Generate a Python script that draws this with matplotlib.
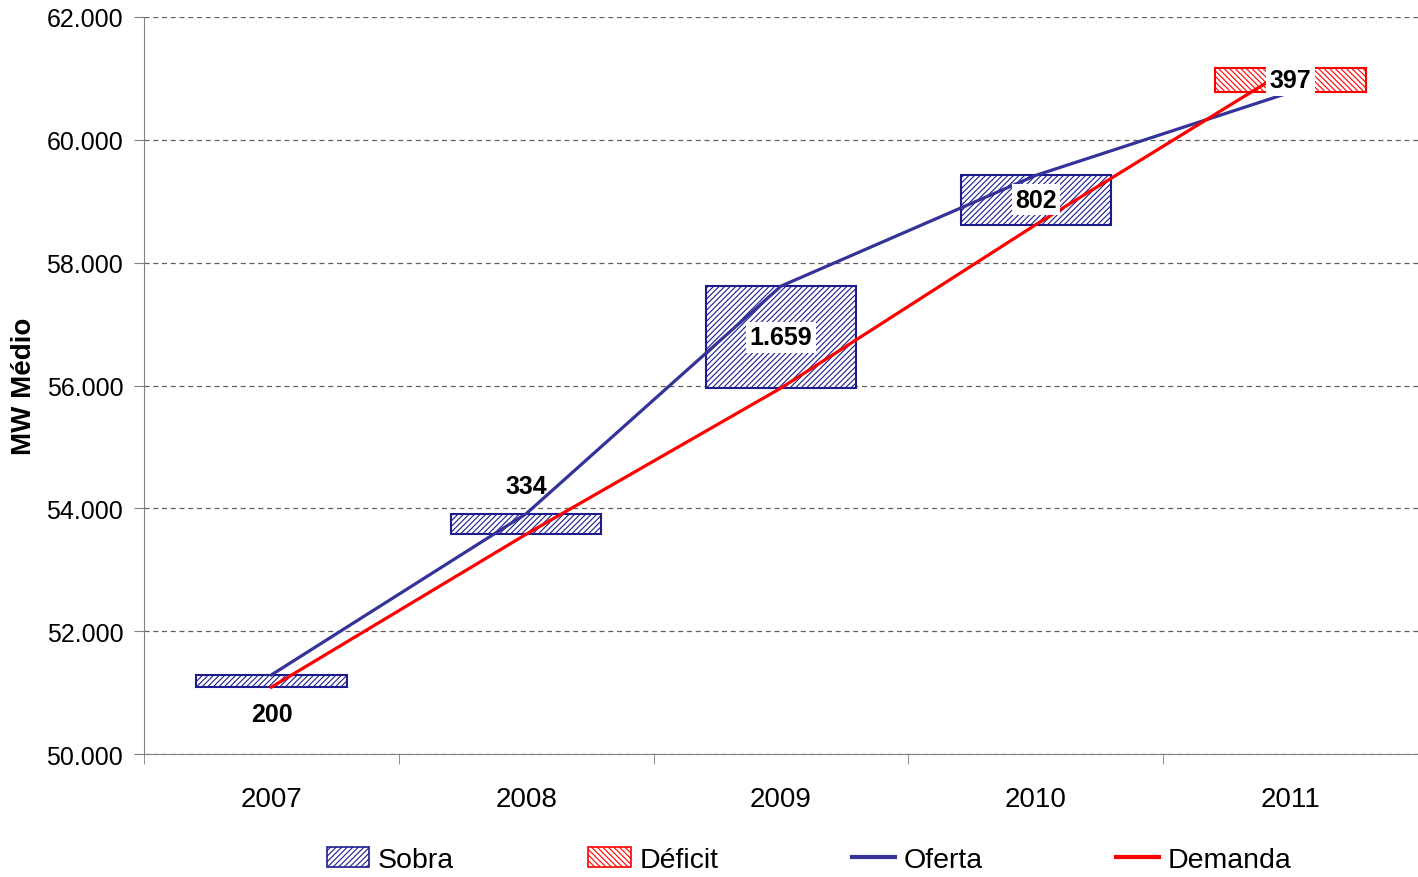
import matplotlib
matplotlib.use("Agg")
import matplotlib.pyplot as plt
from matplotlib.patches import Patch
from matplotlib.lines import Line2D
from matplotlib.ticker import FuncFormatter
import numpy as np

years = ["2007", "2008", "2009", "2010", "2011"]
oferta = [51290, 53914, 57619, 59422, 60775]
demanda = [51090, 53580, 55960, 58620, 61172]
saldo_labels = ["200", "334", "1.659", "802", "397"]

BLUE = "#333399"
NAVY = "#1c1c8f"
RED = "#ff0000"

plt.rcParams["font.family"] = ["Liberation Sans", "DejaVu Sans"]
plt.rcParams["hatch.linewidth"] = 0.8

fig = plt.figure(figsize=(14.18, 8.78), dpi=100)
ax = fig.add_axes([0.1016, 0.140, 0.8984, 0.8395])

x = np.arange(len(years))
of = np.array(oferta)
de = np.array(demanda)
bottoms = np.minimum(of, de)
heights = np.abs(of - de)

for i in range(len(years)):
    if of[i] >= de[i]:
        col, hatch = NAVY, "//////"
    else:
        col, hatch = RED, "\\\\\\\\\\\\"
    ax.bar(x[i], heights[i], bottom=bottoms[i], width=0.59, facecolor="white",
           edgecolor=col, hatch=hatch, linewidth=0, zorder=2)
    ax.bar(x[i], heights[i], bottom=bottoms[i], width=0.59, facecolor="none",
           edgecolor=col, linewidth=1.5, zorder=2)

ax.plot(x, oferta, color=BLUE, linewidth=2.3, zorder=3)
ax.plot(x, demanda, color=RED, linewidth=2.3, zorder=3)

for i, lab in enumerate(saldo_labels):
    top = bottoms[i] + heights[i]
    if i == 0:
        ax.annotate(lab, (x[i], bottoms[i]), xytext=(0, -19.5), textcoords="offset points",
                    ha="center", va="center", fontsize=18, fontweight="bold", zorder=5)
    elif i == 1:
        ax.annotate(lab, (x[i], top), xytext=(0, 20), textcoords="offset points",
                    ha="center", va="center", fontsize=18, fontweight="bold", zorder=5)
    else:
        ax.text(x[i], bottoms[i] + heights[i] / 2, lab, ha="center", va="center",
                fontsize=18, fontweight="bold", zorder=5,
                bbox=dict(facecolor="white", edgecolor="none", pad=2.5))

ax.set_xlim(-0.5, len(years) - 0.5)
ax.set_ylim(50000, 62000)
ax.set_yticks(np.arange(50000, 62001, 2000))
ax.yaxis.set_major_formatter(FuncFormatter(lambda v, p: f"{int(v):,}".replace(",", ".")))
ax.set_xticks(x)
ax.set_xticklabels(years)
ax.set_xticks(np.arange(-0.5, len(years), 1.0), minor=True)
ax.tick_params(axis="x", which="major", length=0, pad=23, labelsize=20)
ax.tick_params(axis="x", which="minor", length=7, color="#808080", direction="out")
ax.tick_params(axis="y", length=7, color="#808080", labelsize=18, pad=8)

ax.grid(axis="y", linestyle=(0, (4, 3)), color="#606060", linewidth=0.9, zorder=0)
ax.set_axisbelow(True)
for s in ["top", "right"]:
    ax.spines[s].set_visible(False)
ax.spines["left"].set_color("#808080")
ax.spines["bottom"].set_color("#808080")

ax.set_ylabel("MW Médio", fontsize=20, fontweight="bold", labelpad=7)

handles = [
    Patch(facecolor="white", edgecolor=NAVY, hatch="//////", linewidth=1.2),
    Patch(facecolor="white", edgecolor=RED, hatch="\\\\\\\\\\\\", linewidth=1.2),
    Line2D([0], [0], color=BLUE, linewidth=3),
    Line2D([0], [0], color=RED, linewidth=3),
]
fig.legend(handles, ["Sobra", "Déficit", "Oferta", "Demanda"], loc="center",
           bbox_to_anchor=(0.5705, 0.019), ncol=4, frameon=False, fontsize=20.5,
           handlelength=1.5, handleheight=0.7, handletextpad=0.3, columnspacing=4.7)

fig.savefig("out.png", dpi=100)
